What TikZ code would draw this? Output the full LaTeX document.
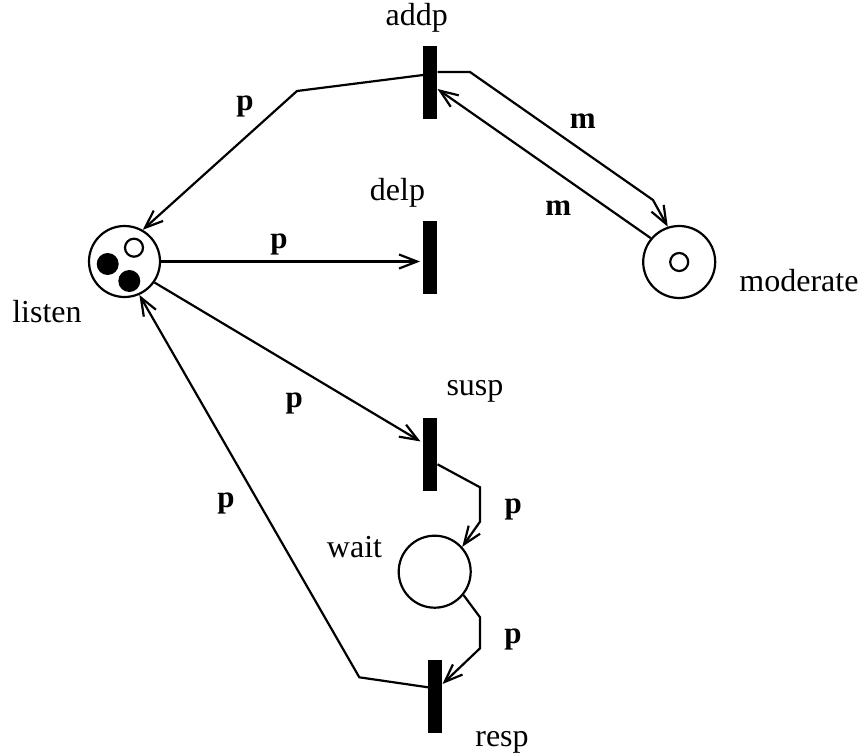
\documentclass[tikz,border=0pt]{standalone}
\usepackage{fontspec}
\setmainfont{Liberation Serif}
\usetikzlibrary{arrows.meta,calc}
\begin{document}
\begin{tikzpicture}[x=1pt,y=-1pt,
  place/.style={circle,draw,line width=2.2pt,minimum size=72pt,inner sep=0pt},
  trans/.style={rectangle,fill=black,minimum width=14pt,minimum height=73pt,inner sep=0pt},
  tok/.style={circle,draw,line width=2.2pt,minimum size=18pt,inner sep=0pt},
  blk/.style={circle,fill=black,minimum size=22pt,inner sep=0pt},
  arc/.style={line width=2.2pt,-{Straight Barb[length=18pt,width=14pt,line width=2.2pt]}},
  lbl/.style={font=\fontsize{32}{38}\selectfont,anchor=base,inner sep=0pt},
  wlbl/.style={font=\fontsize{31}{36}\selectfont\bfseries,anchor=base,inner sep=0pt}]
\useasboundingbox (0,0) rectangle (863,755);
% places
\node[place,minimum size=71pt] (listen) at (124.5,261.5) {};
\node[tok] (t1) at (134,247.7) {};
\node[blk] (t2) at (107.7,264) {};
\node[blk] (t3) at (129.3,281) {};
\node[place] (moderate) at (679.2,262) {};
\node[tok] (t4) at (679.2,262) {};
\node[place] (wait) at (434.7,571.7) {};
% transitions
\node[trans] (addp) at (430.3,82.5) {};
\node[trans] (delp) at (430.3,257.5) {};
\node[trans] (susp) at (430.3,454) {};
\node[trans] (resp) at (435.3,696.7) {};
% bend points
\coordinate (c1) at (297,91);
\coordinate (c2) at (470,72);
\coordinate (c3) at (653,200);
\coordinate (c4) at (480,487.3);
\coordinate (c5) at (480,521.7);
\coordinate (c6) at (480,617.3);
\coordinate (c7) at (480,648.3);
\coordinate (c8) at (359.3,677.3);
% arcs
\draw[arc] ([yshift=7.5pt]addp.west) -- (c1) -- (listen.60);
\draw[arc] ([yshift=10.5pt]addp.east) -- (c2) -- (c3) -- (moderate.108);
\draw[arc] (moderate.140) -- ([yshift=-6.5pt]addp.east);
\draw[arc,shorten >=3pt] (listen.east) -- (listen.east -| delp.west);
\draw[arc,shorten >=3pt] (listen.-35) -- ([yshift=11pt]susp.west);
\draw[arc] ([yshift=-10.3pt]susp.east) -- (c4) -- (c5) -- (wait.42);
\draw[arc] (wait.-39) -- (c6) -- (c7) -- ([yshift=12.7pt]resp.east);
\draw[arc] ([yshift=9.4pt]resp.west) -- (c8) -- (listen.-66);
% labels
\node[lbl] (laddp) at (416.7,25.5) {addp};
\node[lbl] (ldelp) at (397.5,200) {delp};
\node[lbl] (lmod) at (799,291) {moderate};
\node[lbl] (llisten) at (47,322) {listen};
\node[lbl] (lsusp) at (475,395.5) {susp};
\node[lbl] (lwait) at (354.5,557.3) {wait};
\node[lbl] (lresp) at (502,746) {resp};
\node[wlbl] (w1) at (245,110) {p};
\node[wlbl] (w2) at (582.7,128.3) {m};
\node[wlbl] (w3) at (558.3,215.7) {m};
\node[wlbl] (w4) at (279,248.3) {p};
\node[wlbl] (w5) at (294.3,407.7) {p};
\node[wlbl] (w6) at (226,507.7) {p};
\node[wlbl] (w7) at (513.3,513.3) {p};
\node[wlbl] (w8) at (513,643.3) {p};
\end{tikzpicture}
\end{document}
